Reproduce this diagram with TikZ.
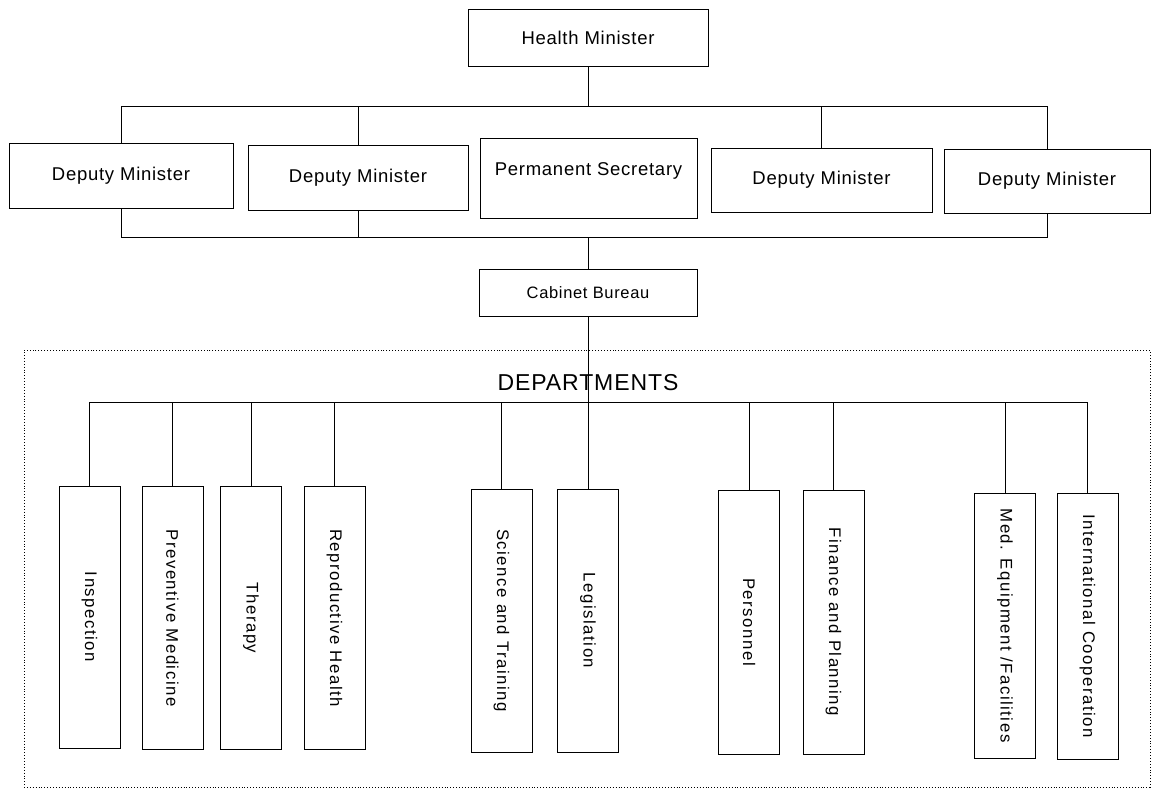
\documentclass[tikz,border=0pt]{standalone}
\usepackage{fontspec}
\setmainfont{Liberation Sans}
\newfontfamily\boxfontfam[LetterSpace=4]{Liberation Sans}
\newfontfamily\deptfontfam[LetterSpace=9]{Liberation Sans}
\newcommand\mytopfont{\boxfontfam\fontsize{18.5}{20}\selectfont}
\newcommand\mycbfont{\boxfontfam\fontsize{16.5}{18}\selectfont}
\newcommand\myheadfont{\boxfontfam\fontsize{23}{25}\selectfont}
\newcommand\mydeptfont{\deptfontfam\fontsize{16.8}{18}\selectfont}
\begin{document}
\begin{tikzpicture}[x=1pt,y=-1pt,
  box/.style={draw, line width=0.9pt, inner sep=0pt, rectangle, font=\mytopfont},
  deptbox/.style={draw, line width=0.9pt, inner sep=0pt, rectangle, minimum width=61pt, font=\mydeptfont},
  conn/.style={line width=0.9pt},
  frame/.style={draw, dotted, line width=0.9pt}]
\useasboundingbox (0,0) rectangle (1153,789);

% top level
\node[box, minimum width=240pt, minimum height=57pt] (hm) at (588,37.5) {Health Minister};

\node[box, minimum width=224pt, minimum height=65pt] (dm1) at (121,176) {Deputy Minister};
\node[box, minimum width=220pt, minimum height=65pt] (dm2) at (358,177.5) {Deputy Minister};
\node[box, minimum width=217pt, minimum height=80pt,
      label={[yshift=7pt, font=\mytopfont]center:Permanent Secretary}] (ps) at (588.5,178) {};
\node[box, minimum width=221pt, minimum height=64pt] (dm3) at (821.5,180) {Deputy Minister};
\node[box, minimum width=206pt, minimum height=64pt] (dm4) at (1047,181) {Deputy Minister};

\node[box, minimum width=218pt, minimum height=47pt, font=\mycbfont] (cb) at (588,292.5) {Cabinet Bureau};

\coordinate (tb) at (588,106);
\coordinate (bb) at (588,237);
\coordinate (db) at (588,402);

\draw[conn] (hm.south) -- (hm.south |- tb);
\draw[conn] (dm1.north) -- (dm1.north |- tb) -- (dm4.north |- tb) -- (dm4.north);
\draw[conn] (dm2.north) -- (dm2.north |- tb);
\draw[conn] (dm3.north) -- (dm3.north |- tb);

\draw[conn] (dm1.south) -- (dm1.south |- bb) -- (dm4.south |- bb) -- (dm4.south);
\draw[conn] (dm2.south) -- (dm2.south |- bb);
\draw[conn] (cb.north) -- (cb.north |- bb);

% departments frame
\node[frame, minimum width=1126pt, minimum height=437pt, inner sep=0pt] (frm) at (587,568.5) {};
\node[font=\myheadfont] (dephead) at (588,383) {DEPARTMENTS};

% department boxes
\node[deptbox, minimum height=262pt] (insp) at (89.5,617) {\rotatebox{-90}{Inspection}};
\node[deptbox, minimum height=263pt] (prev) at (172.5,618) {\rotatebox{-90}{Preventive Medicine}};
\node[deptbox, minimum height=263pt] (ther) at (251,618) {\rotatebox{-90}{Therapy}};
\node[deptbox, minimum height=263pt] (repr) at (334.5,618) {\rotatebox{-90}{Reproductive Health}};
\node[deptbox, minimum height=263pt] (sci) at (501.5,620.5) {\rotatebox{-90}{Science and Training}};
\node[deptbox, minimum height=263pt] (leg) at (588,620.5) {\rotatebox{-90}{Legislation}};
\node[deptbox, minimum height=264pt] (pers) at (749,622) {\rotatebox{-90}{Personnel}};
\node[deptbox, minimum height=264pt] (fin) at (833.5,622) {\rotatebox{-90}{Finance and Planning}};
\node[deptbox, minimum height=265pt] (med) at (1005,625.5) {\rotatebox{-90}{Med. Equipment /Facilities}};
\node[deptbox, minimum height=266pt] (intl) at (1087.5,626) {\rotatebox{-90}{International Cooperation}};

\draw[conn] (cb.south) -- (cb.south |- leg.north);
\draw[conn] (insp.north) -- (insp.north |- db) -- (intl.north |- db) -- (intl.north);
\foreach \n in {prev,ther,repr,sci,pers,fin,med}
  \draw[conn] (\n.north) -- (\n.north |- db);
\end{tikzpicture}
\end{document}
